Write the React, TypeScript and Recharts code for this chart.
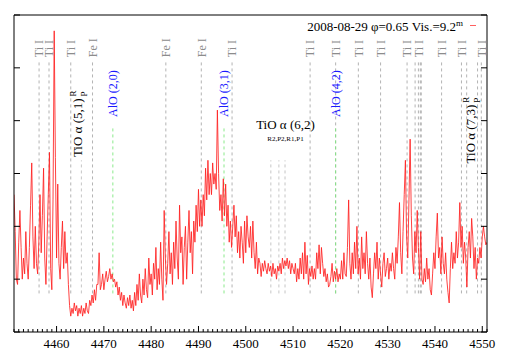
import React from 'react';
import { ComposedChart, Line, XAxis, YAxis, ReferenceLine, ReferenceDot } from 'recharts';

const FONT = '"Liberation Serif", "Times New Roman", serif';

// spectrum sampled every 0.25 Å starting at 4451 Å (arbitrary flux units, 0..6)
const START_WL = 4451;
const STEP_WL = 0.25;
const flux = [
  2.6, 1.9, 1.0, 0.9, 1.7, 2.3, 1.6, 1.0, 1.4, 1.1, 1.9, 1.3, 1.0, 1.6, 2.4, 3.2,
  1.8, 1.2, 2.0, 1.3, 1.1, 1.7, 2.6, 1.5, 2.2, 3.1, 1.4, 0.9, 1.8, 2.6, 3.4, 1.2,
  0.8, 2.5, 5.7, 3.3, 1.4, 2.8, 1.3, 1.0, 1.6, 2.1, 1.2, 1.9, 1.3, 1.5, 0.9, 0.5,
  0.3, 0.45, 0.35, 0.55, 0.4, 0.5, 0.3, 0.45, 0.35, 0.5, 0.3, 0.45, 0.35, 0.55, 0.4, 0.35,
  0.6, 0.5, 0.7, 0.55, 0.8, 0.6, 0.9, 0.9, 1.5, 0.8, 0.9, 1.1, 0.8, 1.0, 1.15, 0.95,
  1.05, 1.2, 1.0, 1.1, 0.95, 1.0, 0.85, 0.95, 0.7, 0.85, 0.6, 0.75, 0.5, 0.7, 0.55, 0.45,
  0.65, 0.5, 0.7, 0.45, 0.6, 0.4, 0.75, 0.5, 0.9, 0.6, 1.1, 0.7, 0.55, 1.0, 0.7, 1.2,
  0.8, 0.65, 1.4, 0.9, 1.1, 0.7, 1.3, 1.0, 1.6, 0.8, 1.2, 0.9, 1.7, 1.0, 0.6, 2.3,
  1.4, 0.9, 1.3, 1.9, 1.1, 1.5, 0.9, 1.7, 1.2, 2.1, 1.4, 1.0, 2.4, 1.5, 1.8, 0.9,
  1.6, 2.0, 1.0, 1.7, 2.3, 1.5, 1.9, 1.1, 2.1, 1.7, 2.4, 1.9, 2.7, 2.0, 2.5, 2.0,
  2.6, 2.2, 3.1, 2.5, 3.25, 2.6, 3.0, 2.6, 3.2, 2.8, 3.0, 2.7, 4.2, 3.0, 2.3, 2.6,
  2.1, 2.9, 2.2, 2.8, 2.0, 2.4, 1.7, 2.1, 1.6, 2.0, 2.4, 1.8, 2.2, 1.5, 1.9, 1.4,
  2.0, 1.7, 1.3, 2.1, 1.5, 2.2, 1.8, 1.6, 2.0, 1.4, 2.1, 1.5, 1.2, 1.7, 1.1, 1.4,
  1.3, 1.05, 1.3, 1.15, 1.35, 1.2, 1.1, 1.3, 1.15, 1.25, 1.05, 1.3, 1.1, 1.2, 1.0, 1.25,
  1.15, 1.3, 1.1, 1.4, 1.2, 1.35, 1.25, 1.4, 1.2, 1.35, 1.1, 1.3, 1.2, 1.1, 1.3, 0.95,
  1.2, 1.0, 1.4, 1.1, 1.5, 1.0, 1.7, 1.1, 1.45, 0.9, 1.2, 1.05, 1.25, 1.0, 1.2, 1.0,
  1.5, 1.2, 1.65, 1.1, 1.6, 1.3, 1.05, 1.2, 0.95, 1.1, 0.85, 0.9, 1.05, 1.3, 0.95, 1.15,
  1.0, 1.2, 0.95, 1.1, 1.0, 1.35, 1.0, 1.5, 1.1, 1.05, 1.6, 2.5, 1.3, 1.0, 1.5, 1.1,
  1.7, 1.2, 2.0, 1.1, 1.4, 1.0, 1.8, 1.2, 1.5, 1.1, 1.9, 1.3, 1.0, 1.4, 0.85, 0.65,
  1.1, 1.5, 1.2, 1.7, 1.0, 1.4, 1.1, 0.85, 1.3, 1.5, 1.05, 1.2, 1.4, 1.0, 1.3, 1.15,
  1.5, 1.2, 1.0, 1.6, 1.3, 1.8, 2.45, 1.5, 1.1, 1.9, 2.6, 3.25, 1.8, 1.4, 2.5, 3.65,
  2.2, 1.4, 1.1, 1.9, 1.5, 2.3, 1.6, 1.0, 1.9, 1.0, 0.9, 1.2, 0.95, 1.4, 1.0, 1.2,
  0.8, 0.7, 1.1, 1.5, 1.2, 1.8, 2.25, 1.4, 1.6, 1.1, 1.8, 1.3, 1.1, 1.5, 1.0, 0.75,
  0.55, 1.2, 1.7, 1.2, 1.5, 1.3, 1.9, 1.4, 1.7, 2.45, 1.6, 2.0, 1.3, 1.7, 1.4, 0.85,
  1.6, 1.9, 1.4, 2.15, 1.8, 1.2, 1.6, 1.0, 1.4, 1.3, 1.6, 1.4, 1.8, 2.0, 1.8, 1.65,
  1.7,
];

const xMajorTicks = [4460, 4470, 4480, 4490, 4500, 4510, 4520, 4530, 4540, 4550];
const yTicks = [0, 1, 2, 3, 4, 5, 6];

// line identifications (wavelengths in Å)
const tiLines = [4456.3, 4458.4, 4463.0, 4497.1, 4513.6, 4519.0, 4523.8, 4528.5, 4534.1, 4536.5, 4541.4, 4545.6, 4549.8];
const tiBlendLines = [4535.8, 4536.9, 4537.1, 4546.7, 4549.0];
const feLines = [4467.6, 4483.1, 4490.6];
const aloLines = [4471.9, 4495.4, 4519.0];
const aloLabels = ['AlO (2,0)', 'AlO (3,1)', 'AlO (4,2)'];
const tio51Lines = [4465.25];
const tio62Lines = [4505.3, 4507.0, 4508.3];

const data = flux.map((f, i) => ({ wl: START_WL + i * STEP_WL, flux: f }));

// minor ticks every Å, labelled every 10 Å
const xAllTicks: number[] = [];
for (let t = 4451; t <= 4551; t++) xAllTicks.push(t);
const isMajor = (v: number) => xMajorTicks.includes(v);

const LINE_TOP = 5.15;
const LINE_BOTTOM = 0.73;
const ALO_TOP = 3.89;
const TIO_TOP = 3.25;
const ID_LABEL_V = 5.2;
const ALO_LABEL_V = 4.07;

const BottomTick = (props: any) => {
  const { x, y, payload } = props;
  const major = isMajor(payload.value);
  return (
    <g>
      <line x1={x} x2={x} y1={y} y2={y - (major ? 6 : 3)} stroke="#000" strokeWidth={1} />
      {major && (
        <text x={x} y={y + 16} textAnchor="middle" fontSize={13} fontFamily={FONT} fill="#000">
          {payload.value}
        </text>
      )}
    </g>
  );
};

const TopTick = (props: any) => {
  const { x, y, payload } = props;
  const major = isMajor(payload.value);
  return <line x1={x} x2={x} y1={y} y2={y + (major ? 6 : 3)} stroke="#000" strokeWidth={1} />;
};

const LeftTick = (props: any) => {
  const { x, y } = props;
  return <line x1={x} x2={x + 6} y1={y} y2={y} stroke="#000" strokeWidth={1} />;
};

const RightTick = (props: any) => {
  const { x, y } = props;
  return <line x1={x} x2={x - 6} y1={y} y2={y} stroke="#000" strokeWidth={1} />;
};

// rotated label starting at (cx, cy) and reading upwards
const vLabel = (text: string, color: string, size: number) => (p: any) => (
  <text
    transform={`translate(${p.cx},${p.cy}) rotate(-90)`}
    dy="0.35em"
    textAnchor="start"
    fontSize={size}
    fontFamily={FONT}
    fill={color}
  >
    {text}
  </text>
);

const tioVLabel = (text: string) => (p: any) => (
  <text
    transform={`translate(${p.cx},${p.cy}) rotate(-90)`}
    dy="0.35em"
    textAnchor="start"
    fontSize={13}
    fontFamily={FONT}
    fill="#000"
  >
    {text}
    <tspan fontSize={9} dx={2} dy={-6}>R</tspan>
    <tspan fontSize={9} dx={-6} dy={11}>P</tspan>
  </text>
);

const hLabel = (text: string, size: number) => (p: any) => (
  <text x={p.cx} y={p.cy} textAnchor="middle" fontSize={size} fontFamily={FONT} fill="#000">
    {text}
  </text>
);

export default function App() {
  return (
    <div style={{ position: 'relative', width: 493, height: 345 }}>
      <ComposedChart
        width={493}
        height={345}
        data={data}
        margin={{ top: 6, right: 13, bottom: 1, left: 5 }}
      >
        <XAxis
          dataKey="wl"
          type="number"
          domain={[4451, 4551]}
          ticks={xAllTicks}
          interval={0}
          allowDataOverflow
          height={20}
          tickSize={0}
          tickMargin={0}
          tick={<BottomTick />}
          axisLine={{ stroke: '#000' }}
          tickLine={false}
        />
        <XAxis
          xAxisId="top"
          orientation="top"
          type="number"
          domain={[4451, 4551]}
          ticks={xAllTicks}
          interval={0}
          allowDataOverflow
          height={1}
          tickSize={0}
          tickMargin={0}
          tick={<TopTick />}
          axisLine={{ stroke: '#000' }}
          tickLine={false}
        />
        <YAxis
          type="number"
          domain={[0, 6]}
          ticks={yTicks}
          interval={0}
          allowDataOverflow
          width={1}
          tickSize={0}
          tickMargin={0}
          tick={<LeftTick />}
          axisLine={{ stroke: '#000' }}
          tickLine={false}
        />
        <YAxis
          yAxisId="right"
          orientation="right"
          type="number"
          domain={[0, 6]}
          ticks={yTicks}
          interval={0}
          allowDataOverflow
          width={1}
          tickSize={0}
          tickMargin={0}
          tick={<RightTick />}
          axisLine={{ stroke: '#000' }}
          tickLine={false}
        />

        {[...tiLines, ...tiBlendLines, ...feLines].map((wl) => (
          <ReferenceLine
            key={`l${wl}`}
            segment={[{ x: wl, y: LINE_BOTTOM }, { x: wl, y: LINE_TOP }]}
            stroke="#a0a0a0"
            strokeWidth={0.8}
            strokeDasharray="3 3"
          />
        ))}
        {[...tio51Lines, ...tio62Lines].map((wl) => (
          <ReferenceLine
            key={`t${wl}`}
            segment={[{ x: wl, y: LINE_BOTTOM }, { x: wl, y: TIO_TOP }]}
            stroke="#b8b8b8"
            strokeWidth={0.8}
            strokeDasharray="3 3"
          />
        ))}
        {aloLines.map((wl) => (
          <ReferenceLine
            key={`a${wl}`}
            segment={[{ x: wl, y: LINE_BOTTOM }, { x: wl, y: ALO_TOP }]}
            stroke="#7ee87e"
            strokeWidth={0.9}
            strokeDasharray="3 3"
          />
        ))}

        <Line
          dataKey="flux"
          type="linear"
          stroke="#ff2020"
          strokeWidth={0.85}
          dot={false}
          activeDot={false}
          isAnimationActive={false}
        />

        {tiLines.map((wl) => (
          <ReferenceDot key={`tl${wl}`} x={wl} y={ID_LABEL_V} r={0} shape={vLabel('Ti I', '#8c8c8c', 12)} />
        ))}
        {feLines.map((wl) => (
          <ReferenceDot key={`fl${wl}`} x={wl} y={ID_LABEL_V} r={0} shape={vLabel('Fe I', '#8c8c8c', 12)} />
        ))}
        {aloLines.map((wl, i) => (
          <ReferenceDot key={`al${wl}`} x={wl} y={ALO_LABEL_V} r={0} shape={vLabel(aloLabels[i], '#1a1aff', 12)} />
        ))}
        <ReferenceDot x={4464.45} y={3.31} r={0} shape={tioVLabel('TiO α (5,1)')} />
        <ReferenceDot x={4547.5} y={3.19} r={0} shape={tioVLabel('TiO α (7,3)')} />
        <ReferenceDot x={4508.4} y={3.84} r={0} shape={hLabel('TiO α (6,2)', 13)} />
        <ReferenceDot x={4508.4} y={3.61} r={0} shape={hLabel('R2,P2,R1,P1', 7)} />
      </ComposedChart>
      <div
        style={{
          position: 'absolute',
          top: 8,
          right: 25,
          fontFamily: FONT,
          fontSize: 13,
          lineHeight: '15px',
          whiteSpace: 'nowrap',
          color: '#000',
          display: 'flex',
          alignItems: 'center',
        }}
      >
        <span>
          2008-08-29 φ=0.65 Vis.=9.2<sup style={{ fontSize: 9 }}>m</sup>
        </span>
        <span style={{ display: 'inline-block', width: 6, height: 1, background: '#ff6060', marginLeft: 7 }} />
      </div>
    </div>
  );
}
